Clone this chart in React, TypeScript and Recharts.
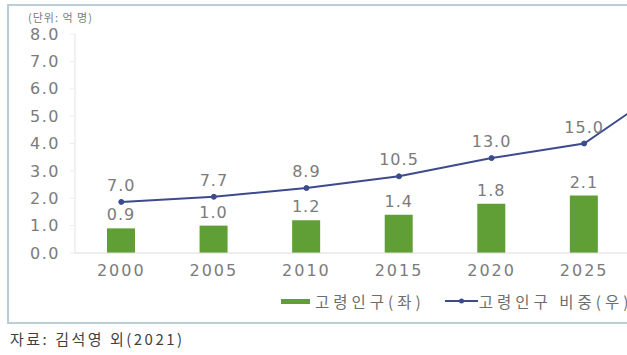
import React from 'react';
import { ComposedChart, Bar, Line, XAxis, YAxis, Legend, LabelList } from 'recharts';

const years = ['2000', '2005', '2010', '2015', '2020', '2025', '2030'];
const elderlyPop = [0.9, 1.0, 1.2, 1.4, 1.8, 2.1, 2.5];
const elderlyShare = [7.0, 7.7, 8.9, 10.5, 13.0, 15.0, 23.7];
const leftTicks = [0, 1, 2, 3, 4, 5, 6, 7, 8];
const rightTicks = [0, 5, 10, 15, 20, 25, 30];
const barName = '고령인구(좌)';
const lineName = '고령인구 비중(우)';
const unitText = '(단위: 억 명)';
const sourceText = '자료: 김석영 외(2021)';

const data = years.map((y, i) => ({ year: y, pop: elderlyPop[i], share: elderlyShare[i] }));

const GREEN = '#5f9f35';
const NAVY = '#3d4b8c';
const GRAY = '#7b7b7b';
const NUM_FONT = '"DejaVu Sans", sans-serif';
const KR_FONT = '"Noto Sans CJK KR", sans-serif';

const fmt1 = (v: any) => Number(v).toFixed(1);

const LegendContent = (props: any) => {
  const payload = [...(props.payload || [])].sort(
    (a: any, b: any) => (a.type === 'line' ? 1 : 0) - (b.type === 'line' ? 1 : 0)
  );
  return (
    <div style={{ display: 'flex', alignItems: 'center', height: 20, whiteSpace: 'nowrap' }}>
      {payload.map((p: any, i: number) => (
        <div key={i} style={{ display: 'flex', alignItems: 'center', marginRight: i === 0 ? 20 : 0 }}>
          {p.type === 'line' ? (
            <svg width={33} height={10} style={{ marginRight: 1 }}>
              <line x1={0} y1={5} x2={33} y2={5} stroke={NAVY} strokeWidth={2} />
              <circle cx={16.5} cy={5} r={2.5} fill={NAVY} />
            </svg>
          ) : (
            <svg width={29} height={10} style={{ marginRight: 5 }}>
              <rect x={0} y={3} width={29} height={5} fill={GREEN} />
            </svg>
          )}
          <span style={{ fontFamily: KR_FONT, fontSize: 15.5, color: '#6d6d6d', letterSpacing: 4 }}>{p.value}</span>
        </div>
      ))}
    </div>
  );
};

export default function App() {
  return (
    <div style={{ position: 'absolute', left: 0, top: 0, width: 627, height: 355, overflow: 'hidden', background: '#fff' }}>
      <div
        style={{
          position: 'absolute',
          left: 7,
          top: 4,
          width: 760,
          height: 316,
          border: '2px solid #b9ced6',
          boxSizing: 'content-box',
        }}
      />
      <div
        style={{
          position: 'absolute',
          left: 28,
          top: 9,
          fontFamily: KR_FONT,
          fontSize: 11,
          color: GRAY,
          letterSpacing: 1,
          whiteSpace: 'nowrap',
        }}
      >
        {unitText}
      </div>
      <div style={{ position: 'absolute', left: 0, top: 0 }}>
        <ComposedChart width={723} height={303} data={data} margin={{ top: 34, right: 0, bottom: 0, left: 0 }}>
          <XAxis
            dataKey="year"
            axisLine={{ stroke: '#dcdcdc' }}
            tickLine={false}
            tickMargin={6}
            tick={{ fill: GRAY, fontSize: 16, fontFamily: NUM_FONT, letterSpacing: 2 }}
            height={30}
          />
          <YAxis
            yAxisId="left"
            domain={[0, 8]}
            ticks={leftTicks}
            tickFormatter={fmt1}
            width={75}
            axisLine={{ stroke: '#e2e2e2' }}
            tickLine={{ stroke: '#ececec' }}
            tickSize={5}
            tickMargin={10}
            interval={0}
            tick={{ fill: GRAY, fontSize: 16, fontFamily: NUM_FONT, letterSpacing: 1.5 }}
          />
          <YAxis
            yAxisId="right"
            orientation="right"
            domain={[0, 30]}
            ticks={rightTicks}
            tickFormatter={fmt1}
            hide
          />
          <Legend
            content={<LegendContent />}
            wrapperStyle={{ left: 281, top: 291, width: 'auto' }}
          />
          <Bar
            yAxisId="left"
            dataKey="pop"
            name={barName}
            fill={GREEN}
            barSize={28}
            legendType="rect"
            isAnimationActive={false}
          >
            <LabelList
              dataKey="pop"
              position="top"
              offset={8}
              formatter={fmt1}
              style={{ fill: GRAY, fontSize: 16, fontFamily: NUM_FONT, letterSpacing: 1 }}
            />
          </Bar>
          <Line
            yAxisId="right"
            dataKey="share"
            name={lineName}
            stroke={NAVY}
            strokeWidth={2}
            dot={{ r: 2.5, fill: NAVY, stroke: NAVY, strokeWidth: 1 }}
            legendType="line"
            isAnimationActive={false}
          >
            <LabelList
              dataKey="share"
              position="top"
              offset={11}
              formatter={fmt1}
              style={{ fill: GRAY, fontSize: 16, fontFamily: NUM_FONT, letterSpacing: 1 }}
            />
          </Line>
        </ComposedChart>
      </div>
      <div
        style={{
          position: 'absolute',
          left: 10,
          top: 328,
          fontFamily: KR_FONT,
          fontSize: 15,
          color: '#3f3f3f',
          letterSpacing: 2.5,
          whiteSpace: 'nowrap',
        }}
      >
        {sourceText}
      </div>
    </div>
  );
}
